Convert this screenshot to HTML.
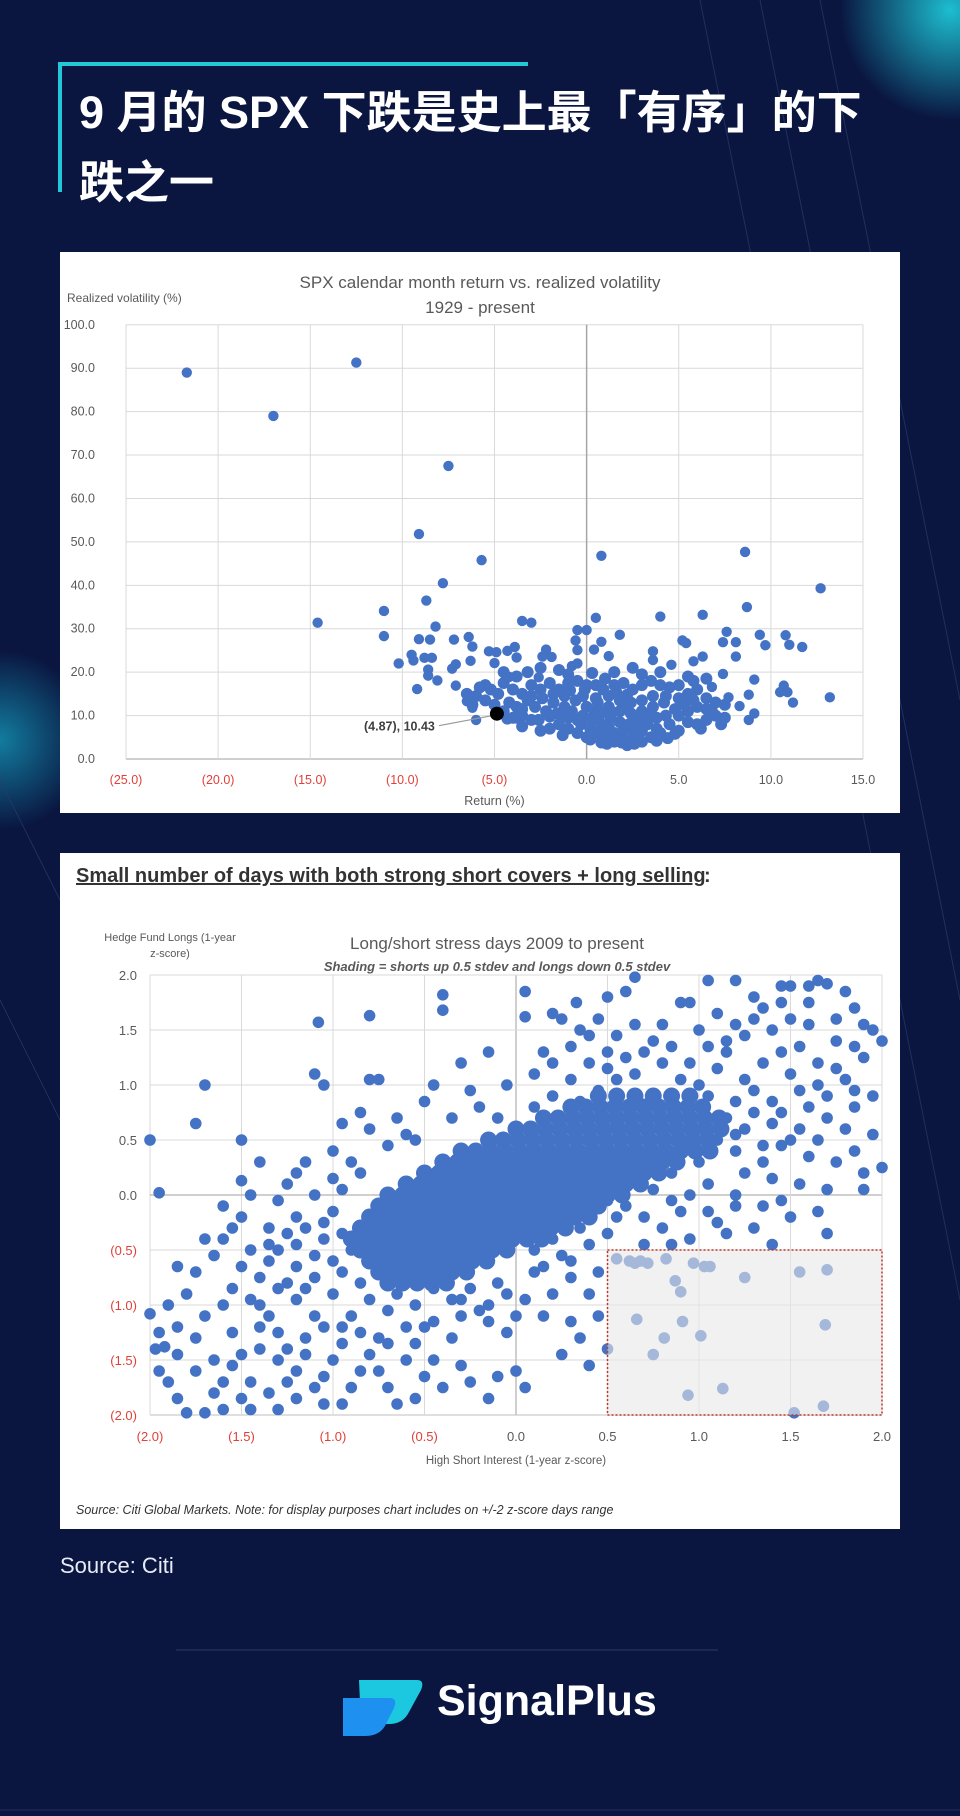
<!DOCTYPE html>
<html><head><meta charset="utf-8">
<style>
html,body{margin:0;padding:0}
body{width:960px;height:1816px;background:#0a1640;position:relative;overflow:hidden;font-family:"Liberation Sans","Noto Sans CJK SC",sans-serif}
.abs{position:absolute}
</style></head>
<body>
<svg class="abs" style="left:0;top:0" width="960" height="1816">
<defs>
<radialGradient id="g1" cx="0.5" cy="0.5" r="0.5"><stop offset="0" stop-color="#1fd0e0" stop-opacity="0.9"/><stop offset="1" stop-color="#1fd0e0" stop-opacity="0"/></radialGradient>
<radialGradient id="g2" cx="0.5" cy="0.5" r="0.5"><stop offset="0" stop-color="#16a8c8" stop-opacity="0.7"/><stop offset="1" stop-color="#16a8c8" stop-opacity="0"/></radialGradient>
</defs>
<circle cx="950" cy="10" r="110" fill="url(#g1)"/>
<circle cx="0" cy="740" r="90" fill="url(#g2)"/>
<g stroke="#2a3a6a" stroke-width="1" fill="none" opacity="0.7">
<line x1="700" y1="0" x2="960" y2="1300"/><line x1="760" y1="0" x2="960" y2="1000"/><line x1="820" y1="0" x2="960" y2="700"/>
<line x1="0" y1="780" x2="60" y2="900"/><line x1="0" y1="1000" x2="60" y2="1120"/>
<line x1="176" y1="1650" x2="718" y2="1650" stroke="#3a4a7a"/>
<line x1="0" y1="1810" x2="960" y2="1810"/>
</g>
</svg>
<div class="abs" style="left:58px;top:62px;width:470px;height:4px;background:#23c8d8"></div>
<div class="abs" style="left:58px;top:62px;width:4px;height:130px;background:#23c8d8"></div>
<div class="abs" style="left:79px;top:78px;width:870px;color:#fff;font-size:45px;font-weight:bold;line-height:70px;white-space:nowrap">9 月的 SPX 下跌是史上最「有序」的下<br>跌之一</div>

<svg class="abs" id="c1" style="left:60px;top:252px;background:#fff" width="840" height="561"></svg>
<svg class="abs" id="c2" style="left:60px;top:853px;background:#fff" width="840" height="676"></svg>

<div class="abs" style="left:60px;top:1553px;color:#e8ecf5;font-size:22px">Source: Citi</div>
<svg class="abs" style="left:339px;top:1672px" width="86" height="66">
<path d="M20 8 H78 Q86 8 82 18 L70 40 Q64 52 50 52 H22 Z" fill="#1bc8e0"/>
<path d="M4 26 H50 Q60 26 54 38 L46 54 Q40 64 26 64 H4 Z" fill="#1e90f0"/>
</svg>
<div class="abs" style="left:437px;top:1677px;color:#fff;font-size:43px;font-weight:bold">SignalPlus</div>

<script>
// ---------- Chart 1 data ----------
const c1XTicks=[-25,-20,-15,-10,-5,0,5,10,15];
const c1YTicks=[0,10,20,30,40,50,60,70,80,90,100];
const c1XLabels=["(25.0)","(20.0)","(15.0)","(10.0)","(5.0)","0.0","5.0","10.0","15.0"];
const c1Outliers=[[-21.7,89],[-17,79],[-12.5,91.3],[-7.5,67.5],[-9.1,51.8],[-5.7,45.8],[0.8,46.8],[8.6,47.7],[-7.8,40.5],[12.7,39.3],[-8.7,36.5],[8.7,35],[-11,34.1],[-14.6,31.4],[-3.5,31.8],[-3,31.4],[0.5,32.5],[4,32.8],[6.3,33.2],[-11,28.3],[-8.2,30.5],[-9.1,27.6],[-8.5,27.5],[-7.2,27.5],[-6.4,28.1],[-6.2,25.9],[-5.3,24.8],[-4.9,24.6],[-4.3,24.9],[-3.9,25.8],[-10.2,22],[-9.5,24],[-9.4,22.7],[-8.8,23.3],[-8.4,23.3],[-8.6,20.6],[-8.6,19.2],[-8.1,18.1],[-7.3,20.8],[-7.1,21.8],[-6.3,22.6],[-5,22.1],[-9.2,16.1],[-7.1,16.9],[-6.5,13.3],[-6.2,11.8],[-6,9],[-3.8,23.4],[-2.4,23.6],[-2.2,25.2],[-1.9,23.5],[-0.8,21.4],[-0.5,22],[-0.6,27.3],[-0.5,29.7],[-0.5,25.1],[0,29.7],[0.4,25.2],[0.8,27],[1.2,23.7],[1.8,28.6],[3.6,22.8],[3.6,24.8],[4.6,21.7],[5.2,27.3],[5.4,26.7],[5.8,22.5],[6.3,23.6],[7.4,26.9],[7.6,29.3],[8.1,26.9],[8.1,23.6],[9.4,28.6],[9.7,26.2],[10.8,28.5],[11,26.3],[11.7,25.8],[9.1,18.3],[8.8,14.8],[8.3,12.2],[8.8,9],[9.1,10.5],[10.5,15.4],[10.7,16.9],[10.9,15.4],[11.2,13],[13.2,14.2],[7.4,19.6],[7.7,14.2],[6.8,16.6],[-4.2,18.9],[-2.6,18.8]];
const c1Cloud=[[-5.5,17],[-5.2,16],[-4.8,15],[-4.5,17.5],[-4,16],[-3.5,15],[-3,17],[-2.5,16],[-2,17.5],[-1.5,16],[-1,17.5],[-0.5,18],[0,17],[0.5,17],[1,18.5],[1.5,17],[2,17.5],[2.5,16],[3,17],[3.5,18],[4,17],[4.5,16.5],[5,17],[5.5,15],[6,16],[6.5,14],[7,13],[7.5,12.5],[6.8,11],[6,12],[5.5,11],[5,10],[5.5,8.5],[6,8],[6.5,9],[7,10],[7.3,8],[6.2,7],[4.5,8],[5,6.5],[4,6],[3.5,5],[3,6.5],[2.5,4.5],[2,5],[1.5,6],[1,5],[0.5,6],[0,5],[-0.5,6],[-1,7],[-1.5,8],[-2,7],[-2.5,6.5],[-3,9],[-3.5,10],[-4,9.5],[-4.5,11],[-5,12.5],[-5.5,13.5],[-6,14.5],[-6.5,15],[-4.2,13],[-3.8,12],[-3.2,13.5],[-2.8,12],[-2.2,11],[-1.8,13],[-1.2,12],[-0.8,11],[-0.2,10],[0.3,9],[0.8,8],[1.3,9.5],[1.8,8.5],[2.3,8],[2.8,9],[3.3,8],[3.8,9.5],[4.3,10],[4.8,11.5],[5.3,12.5],[4.2,13],[3.6,12],[3,11],[2.4,10.5],[1.8,11],[1.2,12],[0.6,11.5],[0,12],[-0.6,13.5],[-1.2,14.5],[-1.8,15],[-2.4,14],[-3,14.5],[-0.2,14.5],[0.5,14],[1.2,14.5],[1.8,13.5],[2.4,13],[3,13.5],[3.6,14.5],[4.3,14.5],[5,14],[0.2,7],[1,6.8],[2,6.5],[3,4],[2.6,3.5],[1.5,4],[0.2,4.5],[3.8,7],[-1,9.5],[-2,9.8],[-2.6,9],[-3.5,7.5],[-1.6,10.5],[0.8,10.5],[2,12],[3.5,10.5],[5.8,13.5],[6.5,11.5],[7.5,9.5],[1.5,20],[-1.5,20.5],[-2.5,21],[-3.2,20],[2.5,21],[3,19.5],[4,20],[5.5,19],[6.5,18.5],[-3.8,19],[-4.5,20],[-1,19.5],[0.3,19.8],[5.8,18],[-6.2,12.5],[-5.8,16.5],[-4.3,9.3],[-3.8,9.5],[-3.5,11.5],[-1.3,5.5],[0.8,3.8],[2.2,3.2],[3.8,4.2],[1.2,7.5],[-0.3,8],[2.6,6],[4.8,5.8],[0.4,10],[1.4,10.8],[2.8,7],[3.2,9.8],[0.6,13],[1.6,15.5],[2.2,14.8],[-0.9,15.8],[-0.1,16],[0.9,16],[-1.4,10],[-0.5,9],[1.9,3.8],[1.1,3.5],[4.4,4.8]];
const c1Highlight=[-4.87,10.43];

// ---------- Chart 2 data ----------
const c2Ticks=[-2,-1.5,-1,-0.5,0,0.5,1,1.5,2];
const c2Labels=["(2.0)","(1.5)","(1.0)","(0.5)","0.0","0.5","1.0","1.5","2.0"];
const c2CoreRows=[
[0.9,[.45,.55,.65,.75,.85,.95]],
[0.8,[.3,.38,.46,.54,.62,.7,.78,.86,.94,1.02]],
[0.7,[.15,.23,.31,.39,.47,.55,.63,.71,.79,.87,.95,1.03,1.11]],
[0.6,[0,.08,.16,.24,.32,.4,.48,.56,.64,.72,.8,.88,.96,1.04,1.12]],
[0.5,[-.15,-.07,.01,.09,.17,.25,.33,.41,.49,.57,.65,.73,.81,.89,.97,1.05]],
[0.4,[-.3,-.22,-.14,-.06,.02,.1,.18,.26,.34,.42,.5,.58,.66,.74,.82,.9,.98,1.06]],
[0.3,[-.4,-.32,-.24,-.16,-.08,0,.08,.16,.24,.32,.4,.48,.56,.64,.72,.8,.88]],
[0.2,[-.5,-.42,-.34,-.26,-.18,-.1,-.02,.06,.14,.22,.3,.38,.46,.54,.62,.7,.78]],
[0.1,[-.6,-.52,-.44,-.36,-.28,-.2,-.12,-.04,.04,.12,.2,.28,.36,.44,.52,.6,.68]],
[0.0,[-.7,-.62,-.54,-.46,-.38,-.3,-.22,-.14,-.06,.02,.1,.18,.26,.34,.42,.5,.58]],
[-0.1,[-.75,-.67,-.59,-.51,-.43,-.35,-.27,-.19,-.11,-.03,.05,.13,.21,.29,.37,.45]],
[-0.2,[-.8,-.72,-.64,-.56,-.48,-.4,-.32,-.24,-.16,-.08,0,.08,.16,.24,.32,.4]],
[-0.3,[-.85,-.77,-.69,-.61,-.53,-.45,-.37,-.29,-.21,-.13,-.05,.03,.11,.19,.27]],
[-0.4,[-.9,-.82,-.74,-.66,-.58,-.5,-.42,-.34,-.26,-.18,-.1,-.02,.06,.14]],
[-0.5,[-.85,-.77,-.69,-.61,-.53,-.45,-.37,-.29,-.21,-.13,-.05]],
[-0.6,[-.8,-.72,-.64,-.56,-.48,-.4,-.32,-.24,-.16]],
[-0.7,[-.75,-.67,-.59,-.51,-.43,-.35,-.27]],
[-0.8,[-.7,-.62,-.54,-.46,-.38]]];
const c2Scatter=[[1.6,1.9],[1.65,1.95],[1.7,1.92],[1.5,1.9],[1.45,1.9],[1.8,1.85],[1.2,1.95],[1.05,1.95],[0.65,1.98],[0.6,1.85],[0.5,1.8],[0.9,1.75],[0.95,1.75],[1.1,1.65],[1.3,1.6],[1.35,1.7],[1.4,1.5],[1.6,1.55],[1.9,1.55],[1.95,1.5],[2.0,1.4],[1.75,1.4],[1.85,1.35],[1.55,1.35],[1.25,1.45],[1.15,1.4],[1.0,1.5],[0.8,1.55],[0.75,1.4],[0.55,1.45],[0.45,1.6],[0.4,1.45],[0.3,1.35],[0.2,1.2],[0.15,1.3],[1.9,1.25],[1.75,1.15],[1.65,1.2],[1.5,1.1],[1.35,1.2],[1.25,1.05],[1.1,1.15],[0.95,1.2],[0.6,1.25],[0.5,1.15],[1.85,0.95],[1.95,0.9],[1.7,0.9],[1.55,0.95],[1.4,0.85],[1.3,0.95],[1.2,0.85],[1.15,0.7],[1.25,0.6],[1.4,0.65],[1.55,0.6],[1.7,0.7],[1.8,0.6],[1.95,0.55],[2.0,0.25],[1.9,0.2],[1.75,0.3],[1.6,0.35],[1.45,0.45],[1.35,0.3],[1.2,0.4],[1.1,0.5],[1.25,0.2],[1.4,0.15],[1.55,0.1],[1.7,0.05],[1.9,0.05],[1.65,-0.15],[1.5,-0.2],[1.35,-0.1],[1.2,-0.1],[1.05,0.1],[1.0,0.3],[0.95,0.0],[1.1,-0.25],[1.3,-0.3],[1.4,-0.45],[1.7,-0.35],[0.9,-0.15],[0.8,-0.3],[0.7,-0.2],[0.6,-0.1],[0.75,0.05],[0.85,0.2],[0.7,-0.45],[0.5,-0.35],[0.55,-0.2],[0.95,-0.4],[1.15,-0.35],
[0.05,1.85],[0.05,1.62],[-0.4,1.82],[-0.4,1.68],[0.2,1.65],[0.25,1.6],[0.33,1.75],[-0.15,1.3],[-0.3,1.2],[-0.05,1.0],[0.1,1.1],[-0.25,0.95],[-0.45,1.0],[-0.5,0.85],[-0.65,0.7],[-0.6,0.55],[-0.7,0.45],[-0.8,0.6],[-0.85,0.75],[-0.95,0.65],[-1.0,0.4],[-1.05,1.0],[-1.1,1.1],[-1.08,1.57],[-0.8,1.63],[-0.8,1.05],[-0.75,1.05],[-0.55,0.5],[-0.35,0.7],[-0.2,0.8],[-0.1,0.7],[0.2,0.9],[0.3,1.05],[-1.15,0.3],[-1.2,0.2],[-1.25,0.1],[-0.9,0.3],[-0.85,0.2],[-1.0,0.15],
[-2.0,0.5],[-1.95,0.02],[-1.7,1.0],[-1.75,0.65],[-1.5,0.5],[-1.5,0.13],[-1.45,0.0],[-1.6,-0.1],[-1.55,-0.3],[-1.6,-0.4],[-1.7,-0.4],[-1.65,-0.55],[-1.75,-0.7],[-1.85,-0.65],[-1.8,-0.9],[-1.9,-1.0],[-2.0,-1.08],[-1.95,-1.25],[-1.97,-1.4],[-1.92,-1.38],[-1.95,-1.6],[-1.9,-1.7],[-1.85,-1.85],[-1.8,-1.98],[-1.7,-1.98],[-1.6,-1.95],[-1.5,-1.85],[-1.45,-1.7],[-1.55,-1.55],[-1.65,-1.5],[-1.75,-1.3],[-1.85,-1.45],[-1.7,-1.1],[-1.6,-1.0],[-1.55,-0.85],[-1.45,-0.95],[-1.4,-0.75],[-1.35,-0.6],[-1.3,-0.5],[-1.25,-0.35],[-1.2,-0.45],[-1.15,-0.3],[-1.1,-0.55],[-1.05,-0.4],[-1.35,-1.1],[-1.3,-1.25],[-1.4,-1.4],[-1.3,-1.5],[-1.2,-1.6],[-1.25,-1.7],[-1.35,-1.8],[-1.45,-1.95],[-1.1,-1.75],[-1.05,-1.9],[-0.95,-1.9],[-0.9,-1.75],[-1.0,-1.5],[-0.95,-1.35],[-1.15,-1.3],[-1.1,-1.1],[-1.2,-0.95],[-1.25,-0.8],[-1.1,-0.75],[-1.0,-0.9],[-0.95,-0.7],[-1.0,-0.6],[-0.9,-1.1],[-0.85,-1.25],[-0.8,-1.45],[-0.75,-1.6],[-0.7,-1.75],[-0.65,-1.9],[-0.55,-1.85],[-0.5,-1.65],[-0.45,-1.5],[-0.55,-1.35],[-0.6,-1.2],[-0.7,-1.05],[-0.8,-0.95],[-0.65,-0.9],[-0.55,-1.0],[-0.45,-1.15],[-0.35,-1.3],[-0.3,-1.55],[-0.25,-1.7],[-0.15,-1.85],[-0.1,-1.65],[0.0,-1.6],[0.05,-1.75],[-0.05,-1.25],[-0.2,-1.05],[-0.35,-0.95],[-0.25,-0.85],[-0.1,-0.8],[0.05,-0.95],[0.15,-1.1],[0.3,-1.15],[0.35,-1.3],[0.25,-1.45],[0.4,-1.55],[0.5,-1.4],[0.45,-1.1],[0.4,-0.9],[0.3,-0.75],[0.15,-0.65],[0.45,-0.7],[0.25,-0.55],[0.4,-0.45],[0.1,-0.5],[-1.3,-1.95],[-1.55,-1.25],[-1.75,-1.6],[-1.85,-1.2],[-1.5,-1.45],[-1.4,-1.2],[-1.6,-1.7],[-1.65,-1.8],[-1.2,-1.85],[-1.05,-1.65],[-0.85,-1.6],[-0.6,-1.5],[-0.4,-1.75],[-0.95,-1.2],[-1.15,-1.45],[-0.75,-1.3],[-0.6,-0.8],[-0.45,-0.85],[-0.3,-1.1],[-0.15,-1.0],[0.0,-1.1],[0.2,-0.9],[-1.3,-0.85],[-1.45,-0.5],[-1.35,-0.3],[-1.5,-0.2],[-1.2,-0.2],[-1.1,0.0],[-1.0,-0.15],[-1.05,-0.25],[-0.95,-0.35],[-0.95,0.05],[-0.9,-0.5],
[0.4,1.2],[0.5,1.3],[0.55,1.05],[0.65,1.1],[0.7,1.3],[0.8,1.2],[0.85,1.35],[0.9,1.05],[1.0,1.0],[1.05,0.9],[0.45,0.95],[0.35,0.85],[0.1,0.8],[1.15,1.3],[0.65,1.55],[0.35,1.5],
[1.3,1.8],[1.45,1.75],[1.6,1.75],[1.85,1.7],[1.75,1.6],[1.5,1.6],[1.2,1.55],[1.05,1.35],[1.45,1.3],[1.65,1.0],[1.8,1.05],[1.3,0.75],[1.45,0.75],[1.6,0.8],[1.85,0.8],[1.2,0.55],[1.35,0.45],[1.5,0.5],[1.65,0.5],[1.85,0.4],[1.2,0.0],[1.45,-0.05],[1.05,-0.15],[0.85,-0.05],[0.7,0.3],[0.95,0.45],[0.85,-0.45],[-1.4,0.3],[-1.3,-0.05],[-1.35,-0.45],[-1.5,-0.65],[-1.2,-0.65],[-1.15,-0.85],[-1.4,-1.0],[-1.05,-1.2],[-1.25,-1.4],[-0.85,-0.8],[-0.7,-1.35],[-0.5,-1.2],[-0.3,-0.95],[-0.15,-1.15],[-0.05,-0.9],[0.1,-0.7],[0.3,-0.6],[0.2,-0.4],[0.35,-0.3],[0.5,-0.05],[0.45,0.1]];
const c2BoxPoints=[[0.55,-0.58],[0.62,-0.6],[0.65,-0.62],[0.68,-0.6],[0.72,-0.62],[0.82,-0.58],[0.97,-0.62],[1.03,-0.65],[1.06,-0.65],[1.25,-0.75],[1.55,-0.7],[1.7,-0.68],[0.87,-0.78],[0.9,-0.88],[0.66,-1.13],[0.91,-1.15],[0.81,-1.3],[0.75,-1.45],[1.01,-1.28],[1.69,-1.18],[0.94,-1.82],[1.13,-1.76],[1.52,-1.98],[1.68,-1.92]];

const NS="http://www.w3.org/2000/svg";
function mk(parent,tag,attrs,text){const e=document.createElementNS(NS,tag);for(const k in attrs)e.setAttribute(k,attrs[k]);if(text!==undefined)e.textContent=text;parent.appendChild(e);return e;}
const FONT='"Liberation Sans", sans-serif';
const BLUE="#4472c4", RED="#e0403a", GREY="#595959";

// ---------- Chart 1 ----------
(function(){
const s=document.getElementById('c1');
const X=v=>66+(v+25)*(737/40);
const Y=v=>507-v*4.342;
let t;
t=mk(s,'text',{x:420,y:36,'text-anchor':'middle','font-size':17,fill:GREY,'font-family':FONT},'SPX calendar month return vs. realized volatility');


t=mk(s,'text',{x:420,y:61,'text-anchor':'middle','font-size':17,fill:GREY,'font-family':FONT},'1929 - present');


t=mk(s,'text',{x:7,y:50,'font-size':12,fill:GREY,'font-family':FONT},'Realized volatility (%)');


c1YTicks.forEach(v=>{
 const l=mk(s,'line',{x1:X(-25),x2:X(15),y1:Y(v),y2:Y(v),stroke:v===0?'#bfbfbf':'#d9d9d9','stroke-width':v===0?1.5:1});
 
 
 const tt=mk(s,'text',{x:35,y:Y(v)+4,'text-anchor':'end','font-size':12.5,fill:GREY,'font-family':FONT},v.toFixed(1));
 
 
});
c1XTicks.forEach((v,i)=>{
 const l=mk(s,'line',{x1:X(v),x2:X(v),y1:Y(100),y2:Y(0),stroke:v===0?'#a6a6a6':'#d9d9d9','stroke-width':v===0?1.5:1});
 
 
 const tt=mk(s,'text',{x:X(v),y:532,'text-anchor':'middle','font-size':12.5,fill:v<0?RED:GREY,'font-family':FONT},c1XLabels[i]);
 
 
});
t=mk(s,'text',{x:X(-5),y:553,'text-anchor':'middle','font-size':12.5,fill:GREY,'font-family':FONT},'Return (%)');


c1Cloud.forEach(p=>{
 const c=mk(s,'circle',{cx:X(p[0]),cy:Y(p[1]),r:6,fill:BLUE});
 
 
});
c1Outliers.forEach(p=>{
 const c=mk(s,'circle',{cx:X(p[0]),cy:Y(p[1]),r:5.2,fill:BLUE});
 
 
});
const hx=X(c1Highlight[0]),hy=Y(c1Highlight[1]);
let ln=mk(s,'line',{x1:hx-58,y1:hy+12,x2:hx-5,y2:hy+2,stroke:'#999','stroke-width':1.2});


let hc=mk(s,'circle',{cx:hx,cy:hy,r:7,fill:'#000'});


t=mk(s,'text',{x:hx-62,y:hy+17,'text-anchor':'end','font-size':12.5,'font-weight':'bold',fill:'#404040','font-family':FONT},'('+Math.abs(c1Highlight[0]).toFixed(2)+'), '+c1Highlight[1].toFixed(2));


})();

// ---------- Chart 2 ----------
(function(){
const s=document.getElementById('c2');
const X=v=>90+(v+2)*183;
const Y=v=>122+(2-v)*110;
let t;
t=mk(s,'text',{x:16,y:29,'font-size':20,'font-weight':'bold',fill:'#333','font-family':FONT,'text-decoration':'underline'},'Small number of days with both strong short covers + long selling');


t=mk(s,'text',{x:644,y:29,'font-size':20,'font-weight':'bold',fill:'#333','font-family':FONT},':');


t=mk(s,'text',{x:437,y:96,'text-anchor':'middle','font-size':17,fill:GREY,'font-family':FONT},'Long/short stress days 2009 to present');


t=mk(s,'text',{x:437,y:118,'text-anchor':'middle','font-size':13,'font-weight':'bold','font-style':'italic',fill:GREY,'font-family':FONT},'Shading = shorts up 0.5 stdev and longs down 0.5 stdev');


t=mk(s,'text',{x:110,y:88,'text-anchor':'middle','font-size':11,fill:GREY,'font-family':FONT},'Hedge Fund Longs (1-year');


t=mk(s,'text',{x:110,y:104,'text-anchor':'middle','font-size':11,fill:GREY,'font-family':FONT},'z-score)');


c2Ticks.forEach((v,i)=>{
 const h=mk(s,'line',{x1:X(-2),x2:X(2),y1:Y(v),y2:Y(v),stroke:v===0||v===-2?'#bfbfbf':'#d9d9d9','stroke-width':v===0?1.5:1});
 
 
 const vl=mk(s,'line',{x1:X(v),x2:X(v),y1:Y(2),y2:Y(-2),stroke:v===0?'#bfbfbf':'#d9d9d9','stroke-width':v===0?1.5:1});
 
 
 const yt=mk(s,'text',{x:77,y:Y(v)+5,'text-anchor':'end','font-size':13,fill:v<0?RED:GREY,'font-family':FONT},c2Labels[i]);
 
 
 const xt=mk(s,'text',{x:X(v),y:588,'text-anchor':'middle','font-size':13,fill:v<0?RED:GREY,'font-family':FONT},c2Labels[i]);
 
 
});
t=mk(s,'text',{x:X(0),y:611,'text-anchor':'middle','font-size':11.5,fill:GREY,'font-family':FONT},'High Short Interest (1-year z-score)');


c2CoreRows.forEach(r=>r[1].forEach(x=>{
 const c=mk(s,'circle',{cx:X(x),cy:Y(r[0]),r:8.5,fill:BLUE});
 
 
}));
c2Scatter.concat(c2BoxPoints).forEach(p=>{
 const c=mk(s,'circle',{cx:X(p[0]),cy:Y(p[1]),r:5.8,fill:BLUE});
 
 
});
const box=mk(s,'rect',{x:X(0.5),y:Y(-0.5),width:X(2)-X(0.5),height:Y(-2)-Y(-0.5),fill:'rgba(232,232,232,0.6)',stroke:'#c0392b','stroke-width':1.5,'stroke-dasharray':'2,2'});


t=mk(s,'text',{x:16,y:661,'font-size':12.5,'font-style':'italic',fill:'#333','font-family':FONT},'Source: Citi Global Markets. Note: for display purposes chart includes on +/-2 z-score days range');


})();
</script>
</body></html>
